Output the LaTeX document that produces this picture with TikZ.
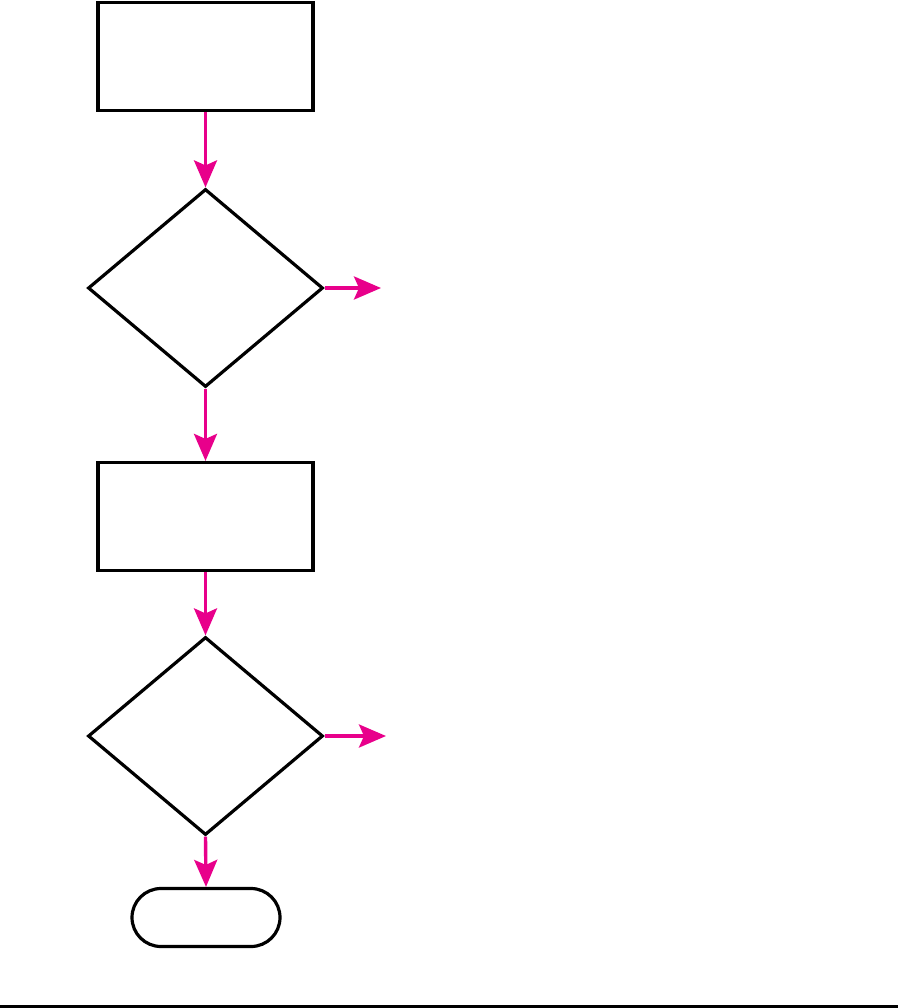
\documentclass[tikz,border=0pt]{standalone}
\usetikzlibrary{shapes.geometric,arrows.meta}
\definecolor{flowpink}{RGB}{232,0,139}
\begin{document}
\begin{tikzpicture}[x=1pt,y=-1pt,
  box/.style={draw=black,line width=3.2pt,rectangle,minimum width=215pt,minimum height=108pt,inner sep=0pt},
  decision/.style={draw=black,line width=3.2pt,diamond,minimum width=235pt,minimum height=198pt,inner sep=0pt},
  terminal/.style={draw=black,line width=3.2pt,rectangle,rounded corners=29pt,minimum width=148pt,minimum height=58pt,inner sep=0pt},
  flow/.style={draw=flowpink,line width=3.4pt,-{Stealth[length=27pt,width=23pt,inset=5pt]}}]
\useasboundingbox (0,0) rectangle (901,1008);
\node[box] (r1) at (205.5,56.5) {};
\node[decision] (d1) at (205.5,288) {};
\node[box] (r2) at (205.5,516.5) {};
\node[decision] (d2) at (205.5,736) {};
\node[terminal] (t) at (206,917.5) {};
\coordinate (o1) at (381,288);
\coordinate (o2) at (386,736);
\draw[flow] (r1.south) -- (d1.north);
\draw[flow] (d1.east) -- (o1);
\draw[flow] (d1.south) -- (r2.north);
\draw[flow] (r2.south) -- (d2.north);
\draw[flow] (d2.east) -- (o2);
\draw[flow] (d2.south) -- (t.north);
\coordinate (la) at (0,1006);
\coordinate (lb) at (898,1006);
\draw[line width=3pt] (la) -- (lb);
\end{tikzpicture}
\end{document}
